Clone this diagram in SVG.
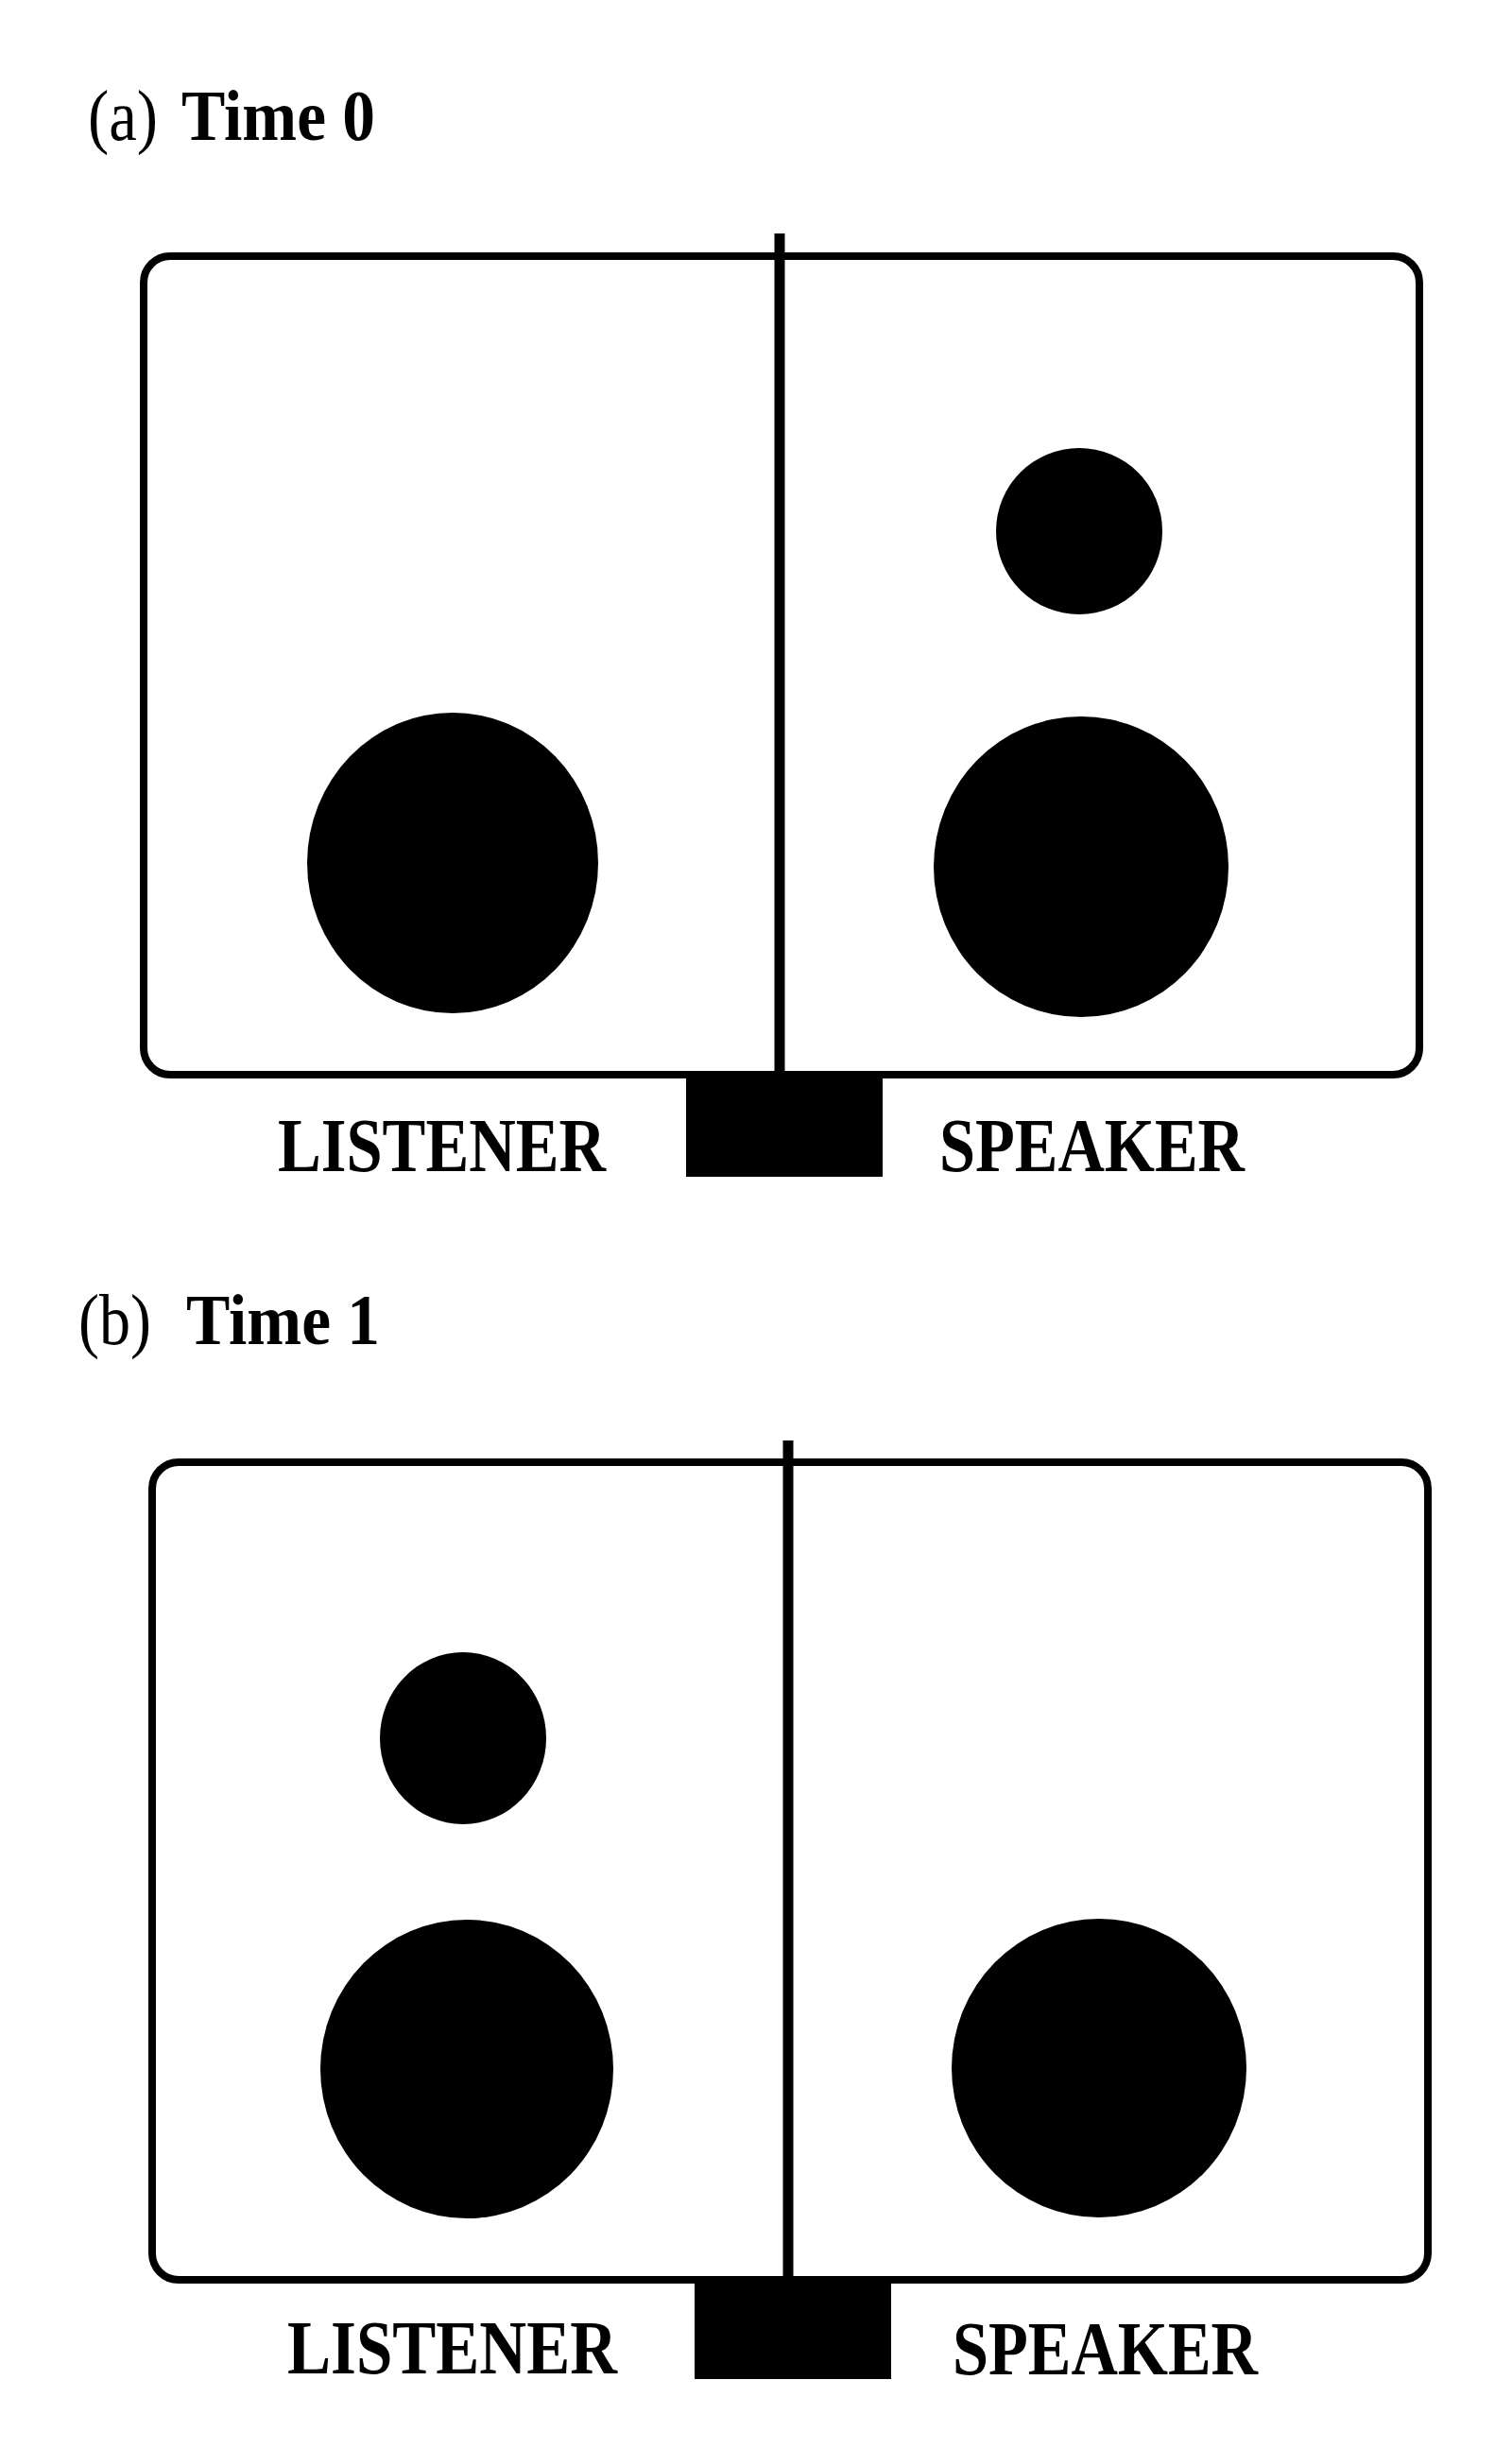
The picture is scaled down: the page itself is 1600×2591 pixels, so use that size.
<svg xmlns="http://www.w3.org/2000/svg" width="1600" height="2591" viewBox="0 0 1600 2591">
<style>
.box{fill:none;stroke:#000;stroke-width:8}
.div{stroke:#000;stroke-width:11}
.blk{fill:#000}
.t{font-family:"Liberation Serif","Times New Roman",serif;fill:#000}
.b{font-weight:bold}
</style>
<rect width="1600" height="2591" fill="#fff"/>
<g id="panel-a">
  <text class="t" x="93" y="148" font-size="77" textLength="74" lengthAdjust="spacingAndGlyphs">(a)</text>
  <text class="t b" x="192" y="148" font-size="77" textLength="205" lengthAdjust="spacingAndGlyphs">Time 0</text>
  <rect id="box-a" class="box" x="152" y="271" width="1350" height="866" rx="28" ry="28"/>
  <g id="a-listener">
    <ellipse class="blk" cx="479" cy="913" rx="154" ry="159"/>
    <text class="t b" x="294" y="1239" font-size="81" textLength="347" lengthAdjust="spacingAndGlyphs">LISTENER</text>
  </g>
  <g id="a-speaker">
    <ellipse class="blk" cx="1142" cy="562" rx="88" ry="88"/>
    <ellipse class="blk" cx="1144" cy="917" rx="156" ry="159"/>
    <text class="t b" x="994" y="1239" font-size="81" textLength="323" lengthAdjust="spacingAndGlyphs">SPEAKER</text>
  </g>
  <rect id="a-block" class="blk" x="726" y="1137" width="208" height="108"/>
</g>
<g id="panel-b">
  <text class="t" x="83" y="1422" font-size="77" textLength="77" lengthAdjust="spacingAndGlyphs">(b)</text>
  <text class="t b" x="197" y="1422" font-size="77" textLength="205" lengthAdjust="spacingAndGlyphs">Time 1</text>
  <rect id="box-b" class="box" x="161" y="1547" width="1350" height="865" rx="28" ry="28"/>
  <g id="b-listener">
    <ellipse class="blk" cx="490" cy="1839" rx="88" ry="91"/>
    <ellipse class="blk" cx="494" cy="2189" rx="155" ry="158"/>
    <text class="t b" x="304" y="2511" font-size="81" textLength="349" lengthAdjust="spacingAndGlyphs">LISTENER</text>
  </g>
  <g id="b-speaker">
    <ellipse class="blk" cx="1163" cy="2188" rx="156" ry="158"/>
    <text class="t b" x="1008" y="2512" font-size="81" textLength="323" lengthAdjust="spacingAndGlyphs">SPEAKER</text>
  </g>
  <rect id="b-block" class="blk" x="735" y="2411" width="208" height="106"/>
</g>
<g id="connectors">
  <line class="div" x1="825" y1="247" x2="825" y2="1138"/>
  <line class="div" x1="834" y1="1524" x2="834" y2="2412"/>
</g>
</svg>
